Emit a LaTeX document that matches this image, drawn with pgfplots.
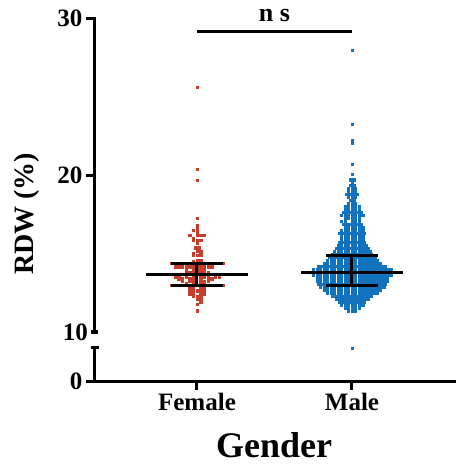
\documentclass[border=0pt]{standalone}
\usepackage{pgfplots}
\pgfplotsset{compat=1.18}
\usepackage{fontspec}
\setmainfont{Liberation Serif}
\definecolor{fem}{RGB}{200,62,45}
\definecolor{mal}{RGB}{18,114,190}
\pgfplotsset{
  common/.style={scale only axis, width=361pt, xmin=0.342, xmax=2.671, clip=false,
    clip marker paths=true,
    axis line style={line width=3pt, line cap=rect},
    every tick/.style={line width=3pt, black},
    tick align=outside, major tick length=9pt,
    ticklabel style={font=\fontsize{25}{27}\selectfont\bfseries},
    /pgf/number format/assume math mode=true},
  dotsF/.style={only marks, color=fem, mark=square*, mark size=1.2pt, mark options={draw=none, fill=fem}},
  dotsM/.style={only marks, color=mal, mark=square*, mark size=1.2pt, mark options={draw=none, fill=mal}},
}
\begin{document}
\begin{tikzpicture}[x=1pt,y=1pt]
\useasboundingbox (0,0) rectangle (456,467);
% upper segment
\begin{axis}[common, at={(95pt,135pt)}, anchor=south west, height=314pt,
  ymin=10, ymax=30, axis y line*=left, axis x line=none,
  ytick={20,30}, extra y ticks={10},
  extra y tick style={tick align=center, major tick length=7pt}]
\addplot[dotsF, x filter/.expression={1+0.0237*x}] coordinates {
(0,25.60) (0,20.36) (0,19.66) (0,17.26) (0,16.77) (0,16.56) (-1,16.48) (0,16.35)
(-2,16.15) (0,16.15) (1,16.15) (2,16.15)
(-1,15.97)
(-1,15.86) (0,15.86) (1,15.86)
(0,15.65)
(-0.5,15.37) (0.5,15.37)
(0,15.16) (1,15.16)
(-1,14.98) (1,14.98)
(-1,14.88) (0,14.88) (1,14.88)
(0,14.59) (1,14.59)
(-1,14.48)
(-7,14.38) (-6,14.38) (-5,14.38) (-4,14.38) (-3,14.38) (-2,14.38) (-1,14.38) (0,14.38) (1,14.38) (2,14.38) (3,14.38) (4,14.38) (5,14.38) (6,14.38) (7,14.38)
(-6,14.16) (-5,14.16) (-4,14.16) (-3,14.16) (-2,14.16) (-1,14.16) (0,14.16) (1,14.16) (2,14.16) (3,14.16) (4,14.16)
(-1,14.01) (0,14.01) (1,14.01)
(-3,13.90) (-1,13.90) (0,13.90) (1,13.90) (2,13.90)
(-2,13.78) (-1,13.78) (0,13.78) (1,13.78) (3,13.78)
(-6,13.52) (-5,13.52) (-3,13.52) (-1,13.52) (1,13.52) (2,13.52) (3,13.52) (5,13.52) (6,13.52)
(-5,13.40) (-4,13.40) (-2,13.40) (-1,13.40) (1,13.40) (3,13.40) (4,13.40)
(-4,13.25) (-2,13.25) (-1,13.25) (1,13.25) (2,13.25) (3,13.25)
(-3,13.12) (-1,13.12) (1,13.12) (2,13.12)
(-7,12.98) (-6,12.98) (-5,12.98) (-4,12.98) (-3,12.98) (-2,12.98) (-1,12.98) (0,12.98) (1,12.98) (2,12.98) (3,12.98) (4,12.98) (5,12.98) (6,12.98) (7,12.98)
(-2,12.80) (-1,12.80) (1,12.80) (2,12.80)
(-2,12.62) (-1,12.62) (0,12.62) (1,12.62) (2,12.62)
(-2,12.45) (-1,12.45) (1,12.45) (2,12.45)
(-1,12.28) (0,12.28) (1,12.28)
(0,12.10) (1,12.10)
(1,11.90) (0,11.78) (0,11.36)
};
\addplot[dotsM, x filter/.expression={2+0.0226*x}] coordinates {
(0,27.96) (0,23.25) (0,22.19) (0,22.02) (0,20.70) (0,20.06) (-0.5,19.70) (0.5,19.70) (0,19.55)
(-0.5,19.36) (0.5,19.36)
(-1,19.17) (0,19.17) (1,19.17)
(-1,18.98) (0,18.98) (1,18.98)
(-1.5,18.79) (-0.5,18.79) (0.5,18.79) (1.5,18.79)
(-1,18.60) (0,18.60) (1,18.60)
(-0.5,18.41) (0.5,18.41)
(-1,18.22) (0,18.22) (1,18.22)
(-2,18.03) (-1,18.03) (0,18.03) (1,18.03) (2,18.03)
(-2,17.83) (-1,17.83) (0,17.83) (1,17.83) (2,17.83)
(-2.5,17.64) (-1.5,17.64) (-0.5,17.64) (0.5,17.64) (1.5,17.64) (2.5,17.64)
(-3,17.45) (-2,17.45) (-1,17.45) (0,17.45) (1,17.45) (2,17.45) (3,17.45)
(-2,17.26) (-1,17.26) (0,17.26) (1,17.26) (2,17.26)
(-3,17.07) (-2,17.07) (0,17.07) (1,17.07) (2,17.07)
(-2.5,16.88) (-1.5,16.88) (-0.5,16.88) (0.5,16.88) (1.5,16.88) (2.5,16.88)
(-2,16.69) (-1,16.69) (0,16.69) (1,16.69) (2,16.69) (3,16.69)
(-3,16.50) (-2,16.50) (-1,16.50) (0,16.50) (1,16.50) (2,16.50) (3,16.50)
(-3.5,16.31) (-2.5,16.31) (-1.5,16.31) (-0.5,16.31) (0.5,16.31) (1.5,16.31) (2.5,16.31) (3.5,16.31)
(-3,16.11) (-2,16.11) (-1,16.11) (0,16.11) (1,16.11) (2,16.11) (3,16.11)
(-3,15.92) (-2,15.92) (-1,15.92) (0,15.92) (1,15.92) (2,15.92) (3,15.92)
(-3.5,15.73) (-2.5,15.73) (-1.5,15.73) (-0.5,15.73) (0.5,15.73) (1.5,15.73) (2.5,15.73) (3.5,15.73)
(-4,15.54) (-3,15.54) (-2,15.54) (-1,15.54) (0,15.54) (1,15.54) (2,15.54) (3,15.54) (4,15.54)
(-4.5,15.35) (-3.5,15.35) (-2.5,15.35) (-1.5,15.35) (-0.5,15.35) (0.5,15.35) (1.5,15.35) (2.5,15.35) (3.5,15.35) (4.5,15.35)
(-5,15.16) (-4,15.16) (-3,15.16) (-2,15.16) (-1,15.16) (0,15.16) (1,15.16) (2,15.16) (3,15.16) (4,15.16) (5,15.16)
(-5.5,14.97) (-4.5,14.97) (-3.5,14.97) (-2.5,14.97) (-1.5,14.97) (-0.5,14.97) (0.5,14.97) (1.5,14.97) (2.5,14.97) (3.5,14.97) (4.5,14.97) (5.5,14.97)
(-6.5,14.78) (-5.5,14.78) (-4.5,14.78) (-3.5,14.78) (-2.5,14.78) (-1.5,14.78) (-0.5,14.78) (0.5,14.78) (1.5,14.78) (2.5,14.78) (3.5,14.78) (4.5,14.78) (5.5,14.78) (6.5,14.78)
(-7,14.59) (-6,14.59) (-5,14.59) (-4,14.59) (-3,14.59) (-2,14.59) (-1,14.59) (0,14.59) (1,14.59) (2,14.59) (3,14.59) (4,14.59) (5,14.59) (6,14.59) (7,14.59)
(-8,14.39) (-7,14.39) (-6,14.39) (-5,14.39) (-4,14.39) (-3,14.39) (-2,14.39) (-1,14.39) (0,14.39) (1,14.39) (2,14.39) (3,14.39) (4,14.39) (5,14.39) (6,14.39) (7,14.39) (8,14.39)
(-9.5,14.20) (-8.5,14.20) (-7.5,14.20) (-6.5,14.20) (-5.5,14.20) (-4.5,14.20) (-3.5,14.20) (-2.5,14.20) (-1.5,14.20) (-0.5,14.20) (0.5,14.20) (1.5,14.20) (2.5,14.20) (3.5,14.20) (4.5,14.20) (5.5,14.20) (6.5,14.20) (7.5,14.20) (8.5,14.20) (9.5,14.20)
(-11,14.01) (-10,14.01) (-9,14.01) (-8,14.01) (-7,14.01) (-6,14.01) (-5,14.01) (-4,14.01) (-3,14.01) (-2,14.01) (-1,14.01) (0,14.01) (1,14.01) (2,14.01) (3,14.01) (4,14.01) (5,14.01) (6,14.01) (7,14.01) (8,14.01) (9,14.01) (10,14.01) (11,14.01)
(-12,13.82) (-11,13.82) (-10,13.82) (-9,13.82) (-8,13.82) (-7,13.82) (-6,13.82) (-5,13.82) (-4,13.82) (-3,13.82) (-2,13.82) (-1,13.82) (0,13.82) (1,13.82) (2,13.82) (3,13.82) (4,13.82) (5,13.82) (6,13.82) (7,13.82) (8,13.82) (9,13.82) (10,13.82) (11,13.82) (12,13.82)
(-11,13.63) (-10,13.63) (-9,13.63) (-8,13.63) (-7,13.63) (-6,13.63) (-5,13.63) (-4,13.63) (-3,13.63) (-2,13.63) (-1,13.63) (0,13.63) (1,13.63) (2,13.63) (3,13.63) (4,13.63) (5,13.63) (6,13.63) (7,13.63) (8,13.63) (9,13.63) (10,13.63) (11,13.63)
(-10,13.44) (-9,13.44) (-8,13.44) (-7,13.44) (-6,13.44) (-5,13.44) (-4,13.44) (-3,13.44) (-2,13.44) (-1,13.44) (0,13.44) (1,13.44) (2,13.44) (3,13.44) (4,13.44) (5,13.44) (6,13.44) (7,13.44) (8,13.44) (9,13.44) (10,13.44)
(-10,13.25) (-9,13.25) (-8,13.25) (-7,13.25) (-6,13.25) (-5,13.25) (-4,13.25) (-3,13.25) (-2,13.25) (-1,13.25) (0,13.25) (1,13.25) (2,13.25) (3,13.25) (4,13.25) (5,13.25) (6,13.25) (7,13.25) (8,13.25) (9,13.25) (10,13.25)
(-9.5,13.06) (-8.5,13.06) (-7.5,13.06) (-6.5,13.06) (-5.5,13.06) (-4.5,13.06) (-3.5,13.06) (-2.5,13.06) (-1.5,13.06) (-0.5,13.06) (0.5,13.06) (1.5,13.06) (2.5,13.06) (3.5,13.06) (4.5,13.06) (5.5,13.06) (6.5,13.06) (7.5,13.06) (8.5,13.06) (9.5,13.06)
(-9,12.87) (-8,12.87) (-7,12.87) (-6,12.87) (-5,12.87) (-4,12.87) (-3,12.87) (-2,12.87) (-1,12.87) (0,12.87) (1,12.87) (2,12.87) (3,12.87) (4,12.87) (5,12.87) (6,12.87) (7,12.87) (8,12.87) (9,12.87)
(-8,12.68) (-7,12.68) (-6,12.68) (-5,12.68) (-4,12.68) (-3,12.68) (-2,12.68) (-1,12.68) (0,12.68) (1,12.68) (2,12.68) (3,12.68) (4,12.68) (5,12.68) (6,12.68) (7,12.68) (8,12.68)
(-7,12.48) (-6,12.48) (-5,12.48) (-4,12.48) (-3,12.48) (-2,12.48) (-1,12.48) (0,12.48) (1,12.48) (2,12.48) (3,12.48) (4,12.48) (5,12.48) (6,12.48) (7,12.48)
(-5.5,12.29) (-4.5,12.29) (-3.5,12.29) (-2.5,12.29) (-1.5,12.29) (-0.5,12.29) (0.5,12.29) (1.5,12.29) (2.5,12.29) (3.5,12.29) (4.5,12.29) (5.5,12.29)
(-4.5,12.10) (-3.5,12.10) (-2.5,12.10) (-1.5,12.10) (-0.5,12.10) (0.5,12.10) (1.5,12.10) (2.5,12.10) (3.5,12.10) (4.5,12.10)
(-3.5,11.91) (-2.5,11.91) (-1.5,11.91) (-0.5,11.91) (0.5,11.91) (1.5,11.91) (2.5,11.91) (3.5,11.91)
(-3,11.72) (-2,11.72) (-1,11.72) (0,11.72) (1,11.72) (2,11.72) (3,11.72)
(-2,11.53) (-1,11.53) (0,11.53) (1,11.53) (2,11.53)
(-1,11.34) (0,11.34) (1,11.34)
};
% median and interquartile range
\addplot[black, line width=3pt] coordinates {(0.671,13.69) (1.329,13.69)};
\addplot[black, line width=3pt] coordinates {(0.832,14.39) (1.168,14.39)};
\addplot[black, line width=3pt] coordinates {(0.832,12.99) (1.168,12.99)};
\addplot[black, line width=3pt] coordinates {(1,12.99) (1,14.39)};
\addplot[black, line width=3pt] coordinates {(1.671,13.76) (2.329,13.76)};
\addplot[black, line width=3pt] coordinates {(1.832,14.90) (2.168,14.90)};
\addplot[black, line width=3pt] coordinates {(1.832,12.99) (2.168,12.99)};
\addplot[black, line width=3pt] coordinates {(2,12.99) (2,14.90)};
% significance bar
\addplot[black, line width=3pt] coordinates {(1,29.17) (2,29.17)};
\node[anchor=base, font=\fontsize{26}{28}\selectfont\bfseries] at (axis cs:1.5,29.75) {n s};
\node[rotate=90, font=\fontsize{28}{30}\selectfont\bfseries] at (axis description cs:-0.188,0.376) {RDW (\%)};
\end{axis}
% lower segment
\begin{axis}[common, at={(95pt,86pt)}, anchor=south west, height=34pt,
  ymin=0, ymax=10, axis y line*=left, axis x line*=bottom,
  ytick={0}, xtick={1,2}, xticklabels={Female,Male},
  extra y ticks={10}, extra y tick labels={},
  extra y tick style={tick align=center, major tick length=7pt}]
\addplot[dotsM, x filter/.expression={2+0.0226*x}] coordinates {(0,9.7)};
\node[font=\fontsize{36}{38}\selectfont\bfseries] at (axis description cs:0.496,-1.88) {Gender};
\end{axis}
\end{tikzpicture}
\end{document}
